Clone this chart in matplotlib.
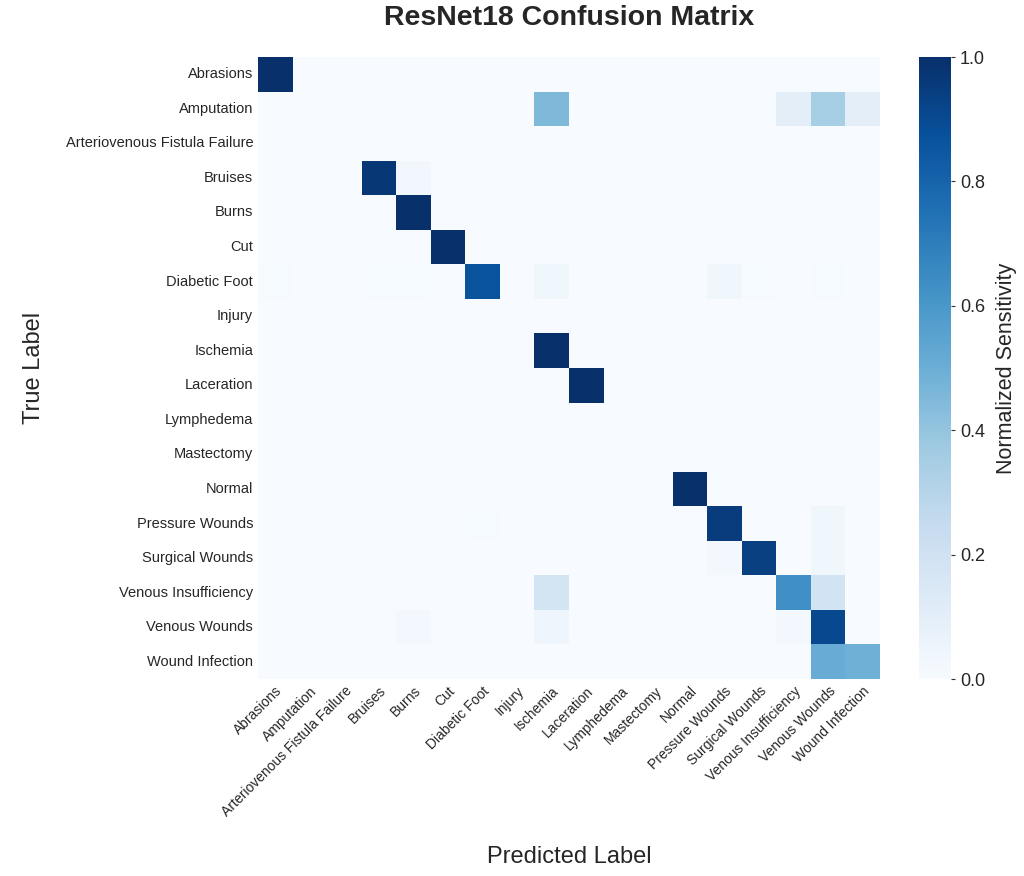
import matplotlib
matplotlib.use("Agg")
import matplotlib.pyplot as plt
import numpy as np
import seaborn as sns

# Class names (same order for true and predicted)
classes = ["Abrasions", "Amputation", "Arteriovenous Fistula Failure", "Bruises",
           "Burns", "Cut", "Diabetic Foot", "Injury", "Ischemia", "Laceration",
           "Lymphedema", "Mastectomy", "Normal", "Pressure Wounds", "Surgical Wounds",
           "Venous Insufficiency", "Venous Wounds", "Wound Infection"]

# Non-zero normalized entries: (true index, predicted index, value)
rows = [0, 1, 1, 1, 1, 3, 3, 4, 5,
        6, 6, 6, 6, 6, 6, 6, 6,
        8, 9, 12,
        13, 13, 13, 14, 14, 14,
        15, 15, 15, 16, 16, 16, 16, 17, 17]
cols = [0, 8, 15, 16, 17, 3, 4, 4, 5,
        0, 3, 4, 6, 8, 13, 14, 16,
        8, 9, 12,
        6, 13, 16, 13, 14, 16,
        8, 15, 16, 4, 8, 15, 16, 16, 17]
vals = [1.0, 0.45, 0.10, 0.35, 0.10, 0.97, 0.03, 1.0, 1.0,
        0.01, 0.01, 0.01, 0.86, 0.04, 0.04, 0.01, 0.01,
        1.0, 1.0, 1.0,
        0.01, 0.95, 0.04, 0.02, 0.94, 0.04,
        0.18, 0.63, 0.19, 0.02, 0.05, 0.02, 0.91, 0.51, 0.49]

cm = np.zeros((len(classes), len(classes)))
cm[rows, cols] = vals

sns.set_style("white")
plt.rcParams['font.family'] = ['Liberation Sans', 'DejaVu Sans']

fig = plt.figure(figsize=(10.24, 8.76), dpi=100)
ax = fig.add_axes([258 / 1024, 1 - 679 / 876, 622 / 1024, 622 / 876])
cax = fig.add_axes([919 / 1024, 1 - 679 / 876, 32 / 1024, 622 / 876])

sns.heatmap(cm, cmap="Blues", vmin=0, vmax=1, ax=ax, cbar_ax=cax,
            xticklabels=classes, yticklabels=classes,
            cbar_kws={"label": "Normalized Sensitivity"})

ax.set_title("ResNet18 Confusion Matrix", fontsize=20.5, fontweight='bold', pad=23)
ax.set_xlabel("Predicted Label", fontsize=17, labelpad=19)
ax.set_ylabel("True Label", fontsize=17, labelpad=15)
ax.tick_params(axis='both', length=0, labelsize=10.5)
ax.tick_params(axis='x', labelsize=10)
plt.setp(ax.get_xticklabels(), rotation=45, ha='right', rotation_mode='anchor')
plt.setp(ax.get_yticklabels(), rotation=0)

cax.tick_params(labelsize=13, length=3, color='#333333')
cax.set_yticks([0, 0.2, 0.4, 0.6, 0.8, 1.0])
cax.yaxis.label.set_size(15.5)
cax.yaxis.labelpad = 8

fig.savefig("out.png", dpi=100)
